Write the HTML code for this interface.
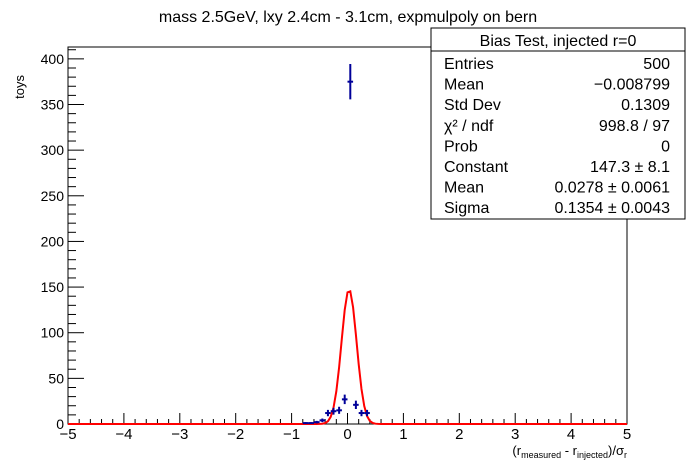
<!DOCTYPE html>
<html><head><meta charset="utf-8"><style>
body{margin:0;background:#fff;}
svg{display:block;font-family:"Liberation Sans",sans-serif;}
</style></head><body>
<svg id="c" width="696" height="472" xmlns="http://www.w3.org/2000/svg">
<rect width="696" height="472" fill="#fff"/>
<text x="348" y="22" text-anchor="middle" font-size="16">mass 2.5GeV, lxy 2.4cm - 3.1cm, expmulpoly on bern</text>
<g id="axes"></g>
<g id="marks"></g>
<text x="24" y="75" font-size="13" transform="rotate(-90 24 75)" text-anchor="end">toys</text>
<text x="627" y="455" font-size="13" text-anchor="end">(r<tspan font-size="9" dy="3">measured</tspan><tspan dy="-3"> - r</tspan><tspan font-size="9" dy="3">injected</tspan><tspan dy="-3">)/σ</tspan><tspan font-size="9" dy="3">r</tspan></text>
<g>
<rect x="431" y="28" width="254" height="191" fill="#fff" stroke="#000" stroke-width="1"/>
<line x1="431" y1="51" x2="685" y2="51" stroke="#000"/>
<text x="558" y="46" text-anchor="middle" font-size="16">Bias Test, injected r=0</text>
<g font-size="16" id="stats"></g>
</g>
</svg>
<script>
const binCenters=[-0.75,-0.65,-0.55,-0.45,-0.35,-0.25,-0.15,-0.05,0.05,0.15,0.25,0.35];
const binCounts=[1,1,2,4,12,14,15,27,375,21,12,12];
const xTicks=[-5,-4,-3,-2,-1,0,1,2,3,4,5];
const yTicks=[0,50,100,150,200,250,300,350,400];
const fitConst=147.3, fitMean=0.0278, fitSigma=0.1354;
const statLabels=["Entries","Mean","Std Dev","χ² / ndf","Prob","Constant","Mean","Sigma"];
const statValues=["500","−0.008799","0.1309","998.8 / 97","0","147.3 ± 8.1","0.0278 ± 0.0061","0.1354 ± 0.0043"];

const L=68,R=627,T=47,B=424,ymax=413;
const sx=v=>L+(v+5)/10*(R-L);
const sy=v=>B-v/ymax*(B-T);
const NS="http://www.w3.org/2000/svg";
function mk(t,a,p){const e=document.createElementNS(NS,t);for(const k in a)e.setAttribute(k,a[k]);p.appendChild(e);return e;}
const ax=document.getElementById('axes'),mg=document.getElementById('marks');
const fr=mk('rect',{x:L,y:T,width:R-L,height:B-T,fill:'none',stroke:'#000','stroke-width':1},ax);


for(let i=0;i<=50;i++){const v=-5+i*0.2;const len=(i%5==0)?11:5;mk('line',{x1:sx(v),x2:sx(v),y1:B,y2:B-len,stroke:'#000'},ax);}
xTicks.forEach(v=>{const t=mk('text',{x:sx(v),y:B+15,'text-anchor':'middle','font-size':15},ax);t.textContent=v<0?'−'+(-v):v;

});
for(let v=0;v<=ymax;v+=10){const len=(v%50==0)?16:8;mk('line',{x1:L,x2:L+len,y1:sy(v),y2:sy(v),stroke:'#000'},ax);}
yTicks.forEach(v=>{const t=mk('text',{x:L-4,y:sy(v)+5,'text-anchor':'end','font-size':14},ax);t.textContent=v;

});
let d='';for(let i=0;i<=200;i++){const x=-5+i*0.05;const y=fitConst*Math.exp(-0.5*Math.pow((x-fitMean)/fitSigma,2));d+=(i?'L':'M')+sx(x).toFixed(2)+','+sy(y).toFixed(2);}
const fp=mk('path',{d:d,fill:'none',stroke:'#f00','stroke-width':2},mg);


binCenters.forEach((c,i)=>{const n=binCounts[i];const e=Math.sqrt(n);const g=mk('g',{stroke:'#000099','stroke-width':2},mg);


mk('line',{x1:sx(c-0.05),x2:sx(c+0.05),y1:sy(n),y2:sy(n)},g);
mk('line',{x1:sx(c),x2:sx(c),y1:sy(n-e),y2:sy(n+e)},g);});
const st=document.getElementById('stats');
statLabels.forEach((l,i)=>{const y=69+i*20.6;
const a=mk('text',{x:444,y:y},st);a.textContent=l;


const b=mk('text',{x:670,y:y,'text-anchor':'end'},st);b.textContent=statValues[i];

});
</script>
</body></html>
